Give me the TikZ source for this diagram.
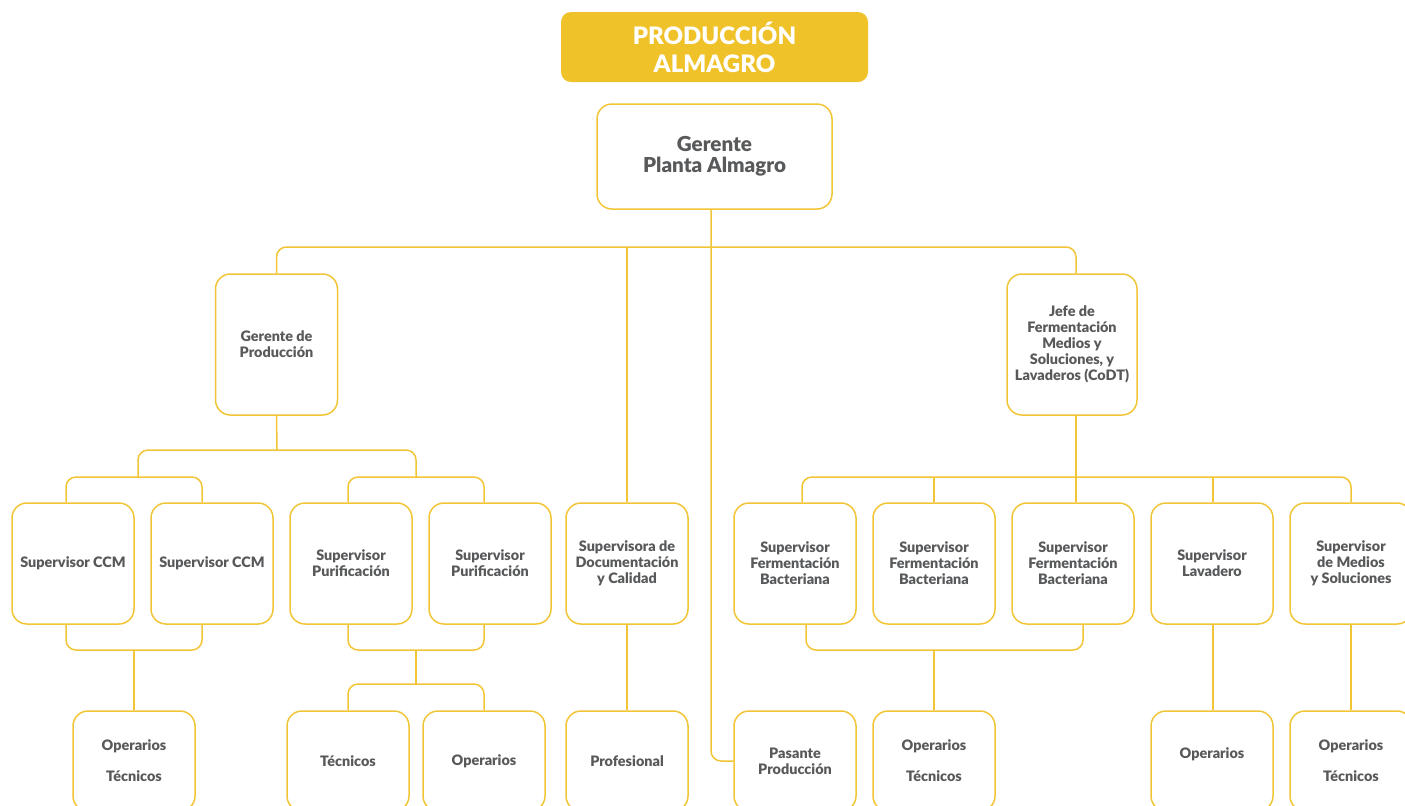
\documentclass[tikz,border=0pt]{standalone}
\usepackage{fontspec}
\setmainfont{Lato}[BoldFont={Lato Black}]
\usetikzlibrary{calc}
\definecolor{yl}{HTML}{F2C537}
\definecolor{ylfill}{HTML}{F0C22A}
\definecolor{tx}{HTML}{58595B}
\begin{document}
\begin{tikzpicture}[x=0.5pt,y=-0.5pt,
  box/.style={draw=yl, line width=0.75pt, rounded corners=7.5pt, fill=white,
    minimum width=61pt, minimum height=60.5pt, inner sep=1pt, align=center,
    text=tx, font=\fontsize{7.2}{8}\selectfont\bfseries},
  lowbox/.style={box, minimum height=50pt},
  conn/.style={draw=yl, line width=0.75pt, rounded corners=5pt}]
\useasboundingbox (0,0) rectangle (1405,805);

% title
\node[fill=ylfill, rounded corners=5pt, minimum width=153.5pt, minimum height=35pt,
  text=white, align=center, font=\fontsize{12}{14}\selectfont\bfseries] (title) at (714.5,47) {PRODUCCIÓN\\ALMAGRO};

% level 1
\node[box, minimum width=117.5pt, minimum height=52.5pt, font=\fontsize{10.3}{10.5}\selectfont\bfseries] (gpa) at (714.5,156.5) {Gerente\\Planta Almagro};

% level 2
\node[box, minimum height=70.5pt] (gp) at (276.5,344.5) {Gerente de\\Producción};
\node[box, minimum width=65pt, minimum height=70.5pt] (jf) at (1072,344.5) {Jefe de\\Fermentación\\Medios y\\Soluciones, y\\Lavaderos (CoDT)};

% level 3
\node[box] (ccm1) at (73,563.5) {Supervisor CCM};
\node[box] (ccm2) at (212,563.5) {Supervisor CCM};
\node[box] (pur1) at (351,563.5) {Supervisor\\Purificación};
\node[box] (pur2) at (490,563.5) {Supervisor\\Purificación};
\node[box] (sdc) at (627,563.5) {Supervisora de\\Documentación\\y Calidad};
\node[box] (f1) at (795,563.5) {Supervisor\\Fermentación\\Bacteriana};
\node[box] (f2) at (934,563.5) {Supervisor\\Fermentación\\Bacteriana};
\node[box] (f3) at (1073,563.5) {Supervisor\\Fermentación\\Bacteriana};
\node[box] (lav) at (1212,563.5) {Supervisor\\Lavadero};
\node[box] (med) at (1351,563.5) {Supervisor\\de Medios\\y Soluciones};

% level 4
\node[lowbox] (opt1) at (134,761) {Operarios\\[7.5pt]Técnicos};
\node[lowbox] (tec) at (348,761) {Técnicos};
\node[lowbox] (ope) at (484,761) {Operarios};
\node[lowbox] (pro) at (627,761) {Profesional};
\node[lowbox] (pas) at (795,761) {Pasante\\Producción};
\node[lowbox] (opt3) at (934,761) {Operarios\\[7.5pt]Técnicos};
\node[lowbox] (op4) at (1212,761) {Operarios\\\phantom{O}};
\node[lowbox] (opt5) at (1351,761) {Operarios\\[7.5pt]Técnicos};

% junction coordinates
\coordinate (b1) at (711,247);
\coordinate (b2) at (277,450);
\coordinate (j1) at (138,477);
\coordinate (j2) at (416,477);
\coordinate (j3) at (1076,477);
\coordinate (k1) at (134,650);
\coordinate (k2) at (416,650);
\coordinate (j4) at (416,684);
\coordinate (k3) at (934,650);

% connectors level 1-2
\draw[conn] (gp.north) |- (b1) -| ($(jf.north)+(4,0)$);
\draw[conn] (sdc.north) -- (sdc.north |- b1);
\draw[conn] ($(gpa.south)+(-3.5,0)$) |- (pas.west);

% Gerente de Produccion branch
\draw[conn] (gp.south) -- (b2);
\draw[conn] (j1) |- (b2) -| (j2);
\draw[conn] ($(ccm1.north)+(-7,0)$) |- (j1) -| ($(ccm2.north)+(-10,0)$);
\draw[conn] ($(pur1.north)+(-3,0)$) |- (j2) -| ($(pur2.north)+(-6,0)$);
\draw[conn] ($(ccm1.south)+(-7,0)$) |- (k1) -| ($(ccm2.south)+(-10,0)$);
\draw[conn] (k1) -- (opt1.north);
\draw[conn] ($(pur1.south)+(-3,0)$) |- (k2) -| ($(pur2.south)+(-6,0)$);
\draw[conn] (k2) -- (j4);
\draw[conn] (tec.north) |- (j4) -| (ope.north);
\draw[conn] (sdc.south) -- (pro.north);

% Jefe branch
\draw[conn] ($(jf.south)+(4,0)$) -- ($(f3.north)+(3,0)$);
\draw[conn] ($(f1.north)+(7,0)$) |- (j3) -| (med.north);
\draw[conn] (f2.north) -- (f2.north |- j3);
\draw[conn] ($(lav.north)+(1,0)$) -- ($(lav.north |- j3)+(1,0)$);
\draw[conn] ($(f1.south)+(11,0)$) |- (k3) -| ($(f3.south)+(10,0)$);
\draw[conn] (k3) -- (opt3.north);
\draw[conn] ($(lav.south)+(1,0)$) -- ($(op4.north)+(1,0)$);
\draw[conn] (med.south) -- (opt5.north);
\end{tikzpicture}
\end{document}
